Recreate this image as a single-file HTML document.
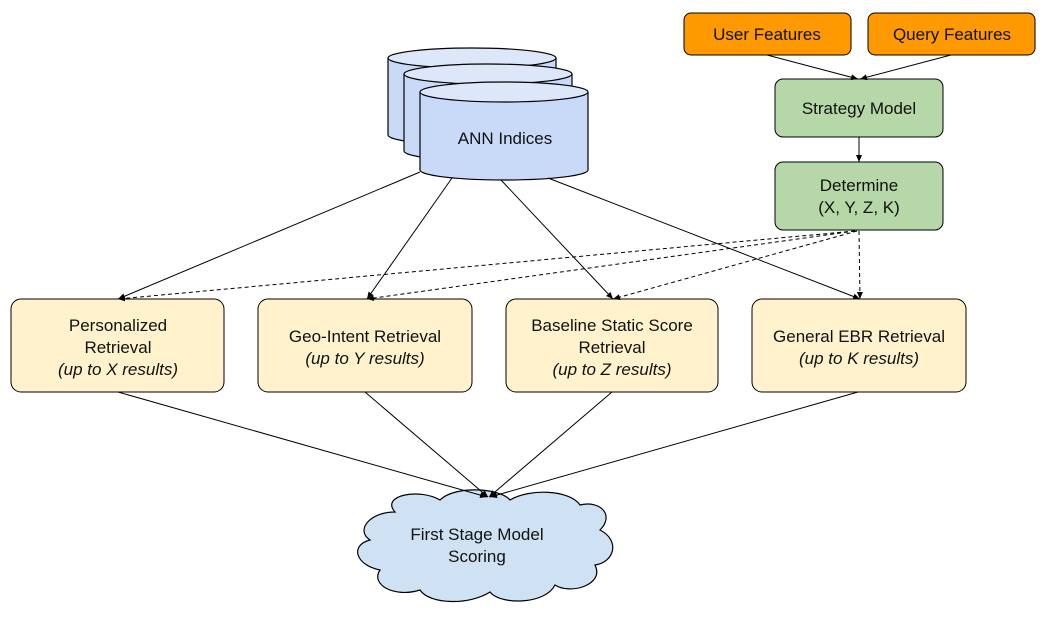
<!DOCTYPE html>
<html><head><style>
body{margin:0;background:#fff;}
svg text{font-family:"Liberation Sans",sans-serif;font-size:17px;fill:#111;}
</style></head><body>
<svg width="1047" height="613" viewBox="0 0 1047 613" xmlns="http://www.w3.org/2000/svg">
<defs>
<marker id="a" markerWidth="8" markerHeight="8" refX="7" refY="4" orient="auto" markerUnits="userSpaceOnUse"><path d="M0,1 L7,4 L0,7 Z" fill="#000"/></marker>
</defs>
<!-- cylinders -->
<g stroke="#000" stroke-width="1.2" fill="#c9daf8">
<path d="M388,58 L388,135 A84,10 0 0 0 556,135 L556,58"/>
<ellipse cx="472" cy="58" rx="84" ry="10" fill="#dde7fa"/>
<path d="M404,74 L404,151 A84,10 0 0 0 572,151 L572,74"/>
<ellipse cx="488" cy="74" rx="84" ry="10" fill="#dde7fa"/>
<path d="M420,92 L420,170 A84,10 0 0 0 588,170 L588,92"/>
<ellipse cx="504" cy="92" rx="84" ry="10" fill="#dde7fa"/>
</g>
<text x="505" y="144" text-anchor="middle">ANN Indices</text>
<!-- orange -->
<rect x="684" y="13" width="167" height="42" rx="7" fill="#ff9900" stroke="#000"/>
<text x="767" y="40" text-anchor="middle">User Features</text>
<rect x="868" y="13" width="167" height="42" rx="7" fill="#ff9900" stroke="#000"/>
<text x="952" y="40" text-anchor="middle">Query Features</text>
<!-- green -->
<rect x="775" y="79" width="168" height="58" rx="8" fill="#b6d7a8" stroke="#000"/>
<text x="859" y="114" text-anchor="middle">Strategy Model</text>
<rect x="775" y="162" width="168" height="68" rx="8" fill="#b6d7a8" stroke="#000"/>
<text x="859" y="191" text-anchor="middle">Determine</text>
<text x="859" y="213" text-anchor="middle">(X, Y, Z, K)</text>
<!-- retrieval boxes -->
<g fill="#fff2cc" stroke="#000">
<rect x="11" y="299" width="213" height="93" rx="10"/>
<rect x="258" y="299" width="214" height="93" rx="10"/>
<rect x="506" y="299" width="212" height="93" rx="10"/>
<rect x="752" y="299" width="214" height="93" rx="10"/>
</g>
<text x="118" y="331" text-anchor="middle">Personalized</text>
<text x="118" y="353" text-anchor="middle">Retrieval</text>
<text x="118" y="375" text-anchor="middle" font-style="italic">(up to X results)</text>
<text x="365" y="342" text-anchor="middle">Geo-Intent Retrieval</text>
<text x="365" y="364" text-anchor="middle" font-style="italic">(up to Y results)</text>
<text x="612" y="331" text-anchor="middle">Baseline Static Score</text>
<text x="612" y="353" text-anchor="middle">Retrieval</text>
<text x="612" y="375" text-anchor="middle" font-style="italic">(up to Z results)</text>
<text x="859" y="342" text-anchor="middle">General EBR Retrieval</text>
<text x="859" y="364" text-anchor="middle" font-style="italic">(up to K results)</text>
<!-- cloud -->
<path d="M395,512 C380,495 420,488 440,500 C455,485 500,488 510,500 C530,488 570,490 580,505 C600,500 615,515 600,530 C620,540 615,562 595,565 C605,585 570,595 555,585 C545,605 500,605 490,592 C470,605 430,605 420,590 C395,598 370,585 380,570 C355,565 350,545 370,540 C355,530 370,512 395,512 Z" fill="#cfe2f3" stroke="#000" stroke-width="1.2"/>
<text x="477" y="540" text-anchor="middle">First Stage Model</text>
<text x="477" y="562" text-anchor="middle">Scoring</text>
<!-- arrows -->
<g stroke="#000" stroke-width="1" fill="none" marker-end="url(#a)">
<line x1="767" y1="55" x2="858" y2="79"/>
<line x1="951" y1="55" x2="860" y2="79"/>
<line x1="859" y1="137" x2="859" y2="162"/>
<line x1="420" y1="172" x2="118" y2="299"/>
<line x1="452" y1="178" x2="367" y2="299"/>
<line x1="501" y1="180" x2="613" y2="299"/>
<line x1="548" y1="178" x2="860" y2="299"/>
<line x1="118" y1="392" x2="487" y2="497"/>
<line x1="365" y1="392" x2="488" y2="497"/>
<line x1="612" y1="392" x2="489" y2="497"/>
<line x1="858" y1="392" x2="490" y2="497"/>
</g>
<g stroke="#000" stroke-width="1" fill="none" stroke-dasharray="4,3" marker-end="url(#a)">
<line x1="855" y1="231" x2="118" y2="299"/>
<line x1="855" y1="231" x2="367" y2="299"/>
<line x1="857" y1="231" x2="613" y2="299"/>
<line x1="859" y1="231" x2="860" y2="299"/>
</g>
</svg>
</body></html>
